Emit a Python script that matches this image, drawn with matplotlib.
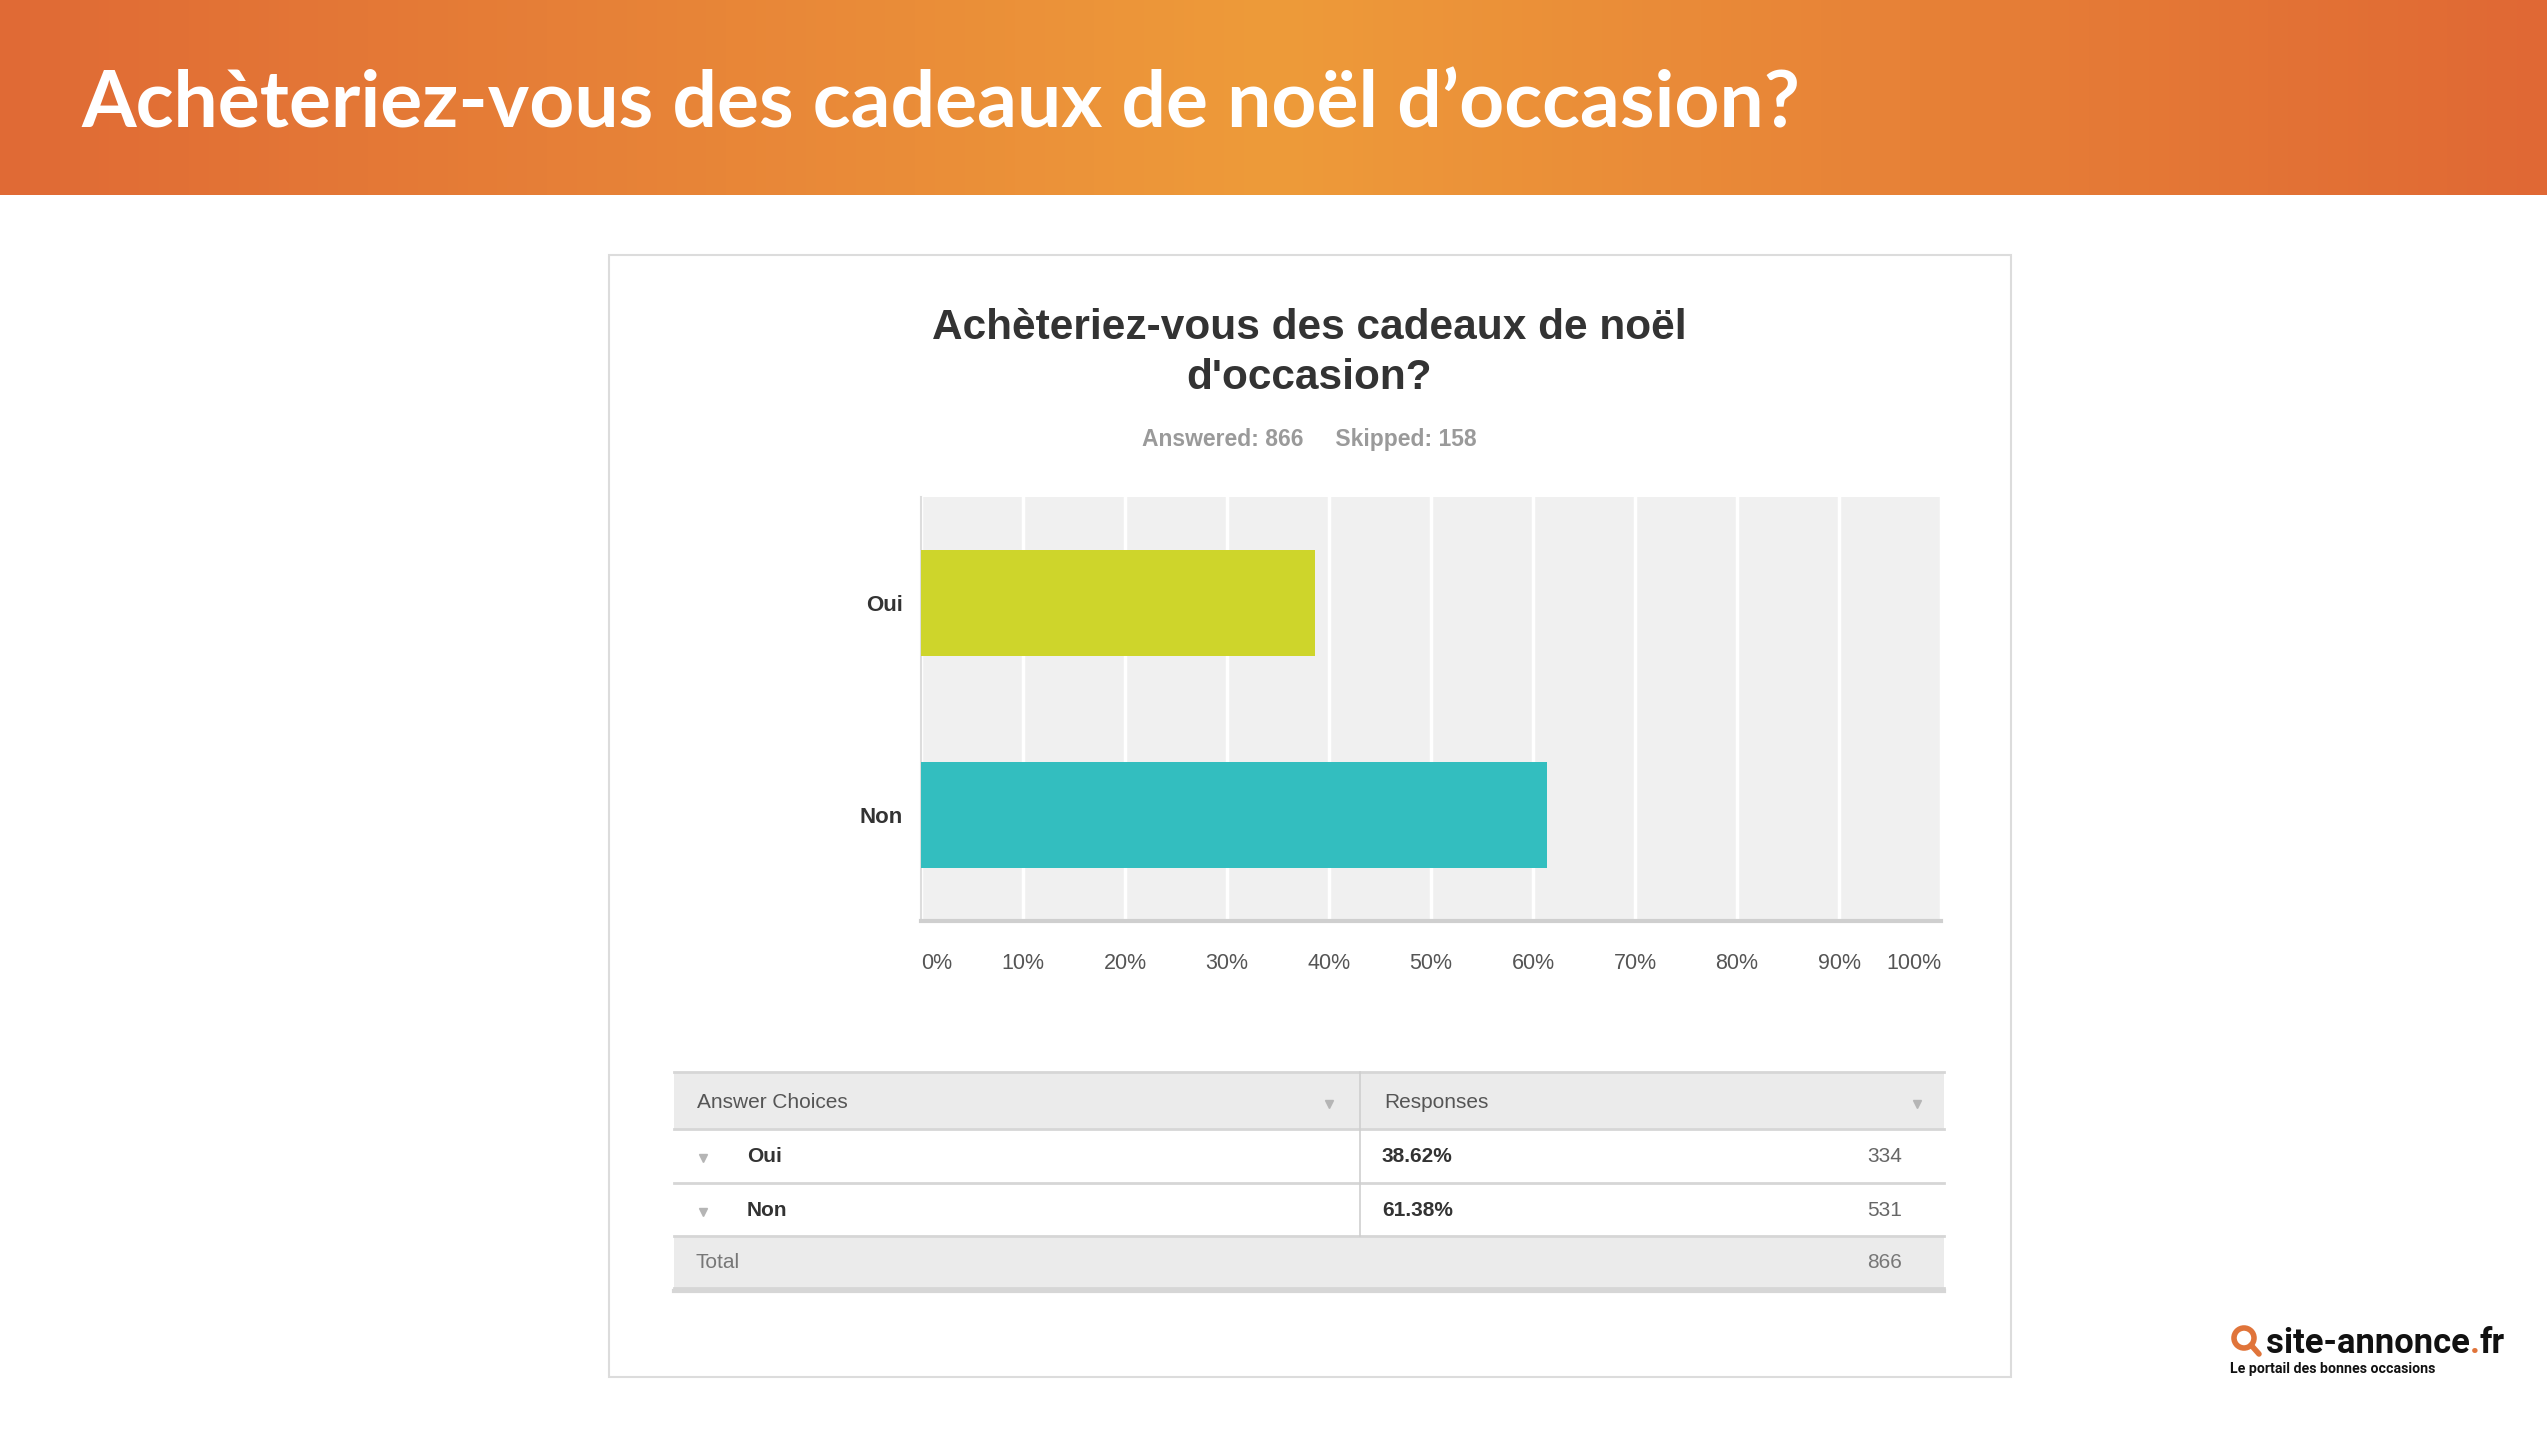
import matplotlib
matplotlib.use("Agg")
import numpy as np
import matplotlib.pyplot as plt
from matplotlib.colors import LinearSegmentedColormap
from matplotlib.patches import Rectangle, Circle

# données du sondage
categories = ["Oui", "Non"]
percents = [38.62, 61.38]
counts = [334, 531]
total = 866
answered = 866
skipped = 158
bar_colors = ["#CED52B", "#33BEBF"]
tick_values = [0, 10, 20, 30, 40, 50, 60, 70, 80, 90, 100]
tick_labels = [f"{v}%" for v in tick_values]

page_title = "Achèteriez-vous des cadeaux de noël d’occasion?"
chart_title = "Achèteriez-vous des cadeaux de noël\nd'occasion?"

W, H = 2547, 1433
fig = plt.figure(figsize=(W / 100, H / 100), dpi=100)
fig.patch.set_facecolor("white")

# calque de fond en pixels (origine en haut à gauche)
bg = fig.add_axes([0, 0, 1, 1])
bg.set_xlim(0, W)
bg.set_ylim(H, 0)
bg.axis("off")

# bandeau orange en dégradé
cmap = LinearSegmentedColormap.from_list(
    "bandeau", ["#E06A35", "#EE9B3A", "#E06834"])
grad = np.linspace(0, 1, 512).reshape(1, -1)
bg.imshow(grad, cmap=cmap, extent=(0, W, 195, 0), aspect="auto", zorder=0)

t = bg.text(81, 127, page_title, color="white", fontsize=60,
            fontfamily="Lato", fontweight="bold", va="baseline", ha="left")
fig.canvas.draw()
r = fig.canvas.get_renderer()
wpx = t.get_window_extent(r).width
t.set_fontsize(60 * 1718 / wpx)

# cadre du graphique
bg.add_patch(Rectangle((609, 255), 1402, 1122, facecolor="white",
                       edgecolor="#DCDCDC", lw=1.5, zorder=1))

bg.text(1309, 353, chart_title, ha="center", va="center", fontsize=30.5,
        fontfamily="Liberation Sans", fontweight="bold", color="#333333",
        linespacing=1.35, zorder=3)
bg.text(1309, 439, f"Answered: {answered}     Skipped: {skipped}",
        ha="center", va="center", fontsize=16.5, fontfamily="Liberation Sans",
        fontweight="bold", color="#9A9A9A", zorder=3)

# zone de tracé
left, right, top, bottom = 921, 1941, 497, 921
ax = fig.add_axes([left / W, 1 - bottom / H, (right - left) / W,
                   (bottom - top) / H])
ax.set_facecolor("#F0F0F0")
y = np.arange(len(categories))
ax.barh(y, percents, height=0.5, color=bar_colors, zorder=3)
ax.set_xlim(0, 100)
ax.set_ylim(1.5, -0.5)
ax.set_xticks(tick_values)
ax.set_xticklabels(tick_labels)
ax.set_yticks(y)
ax.set_yticklabels(categories)
ax.grid(axis="x", color="white", lw=2.5, zorder=1)
ax.tick_params(axis="both", length=0)
ax.tick_params(axis="x", pad=23, labelsize=15.5, labelcolor="#555555")
ax.tick_params(axis="y", pad=13, labelsize=16, labelcolor="#333333")
for lab in ax.get_xticklabels():
    lab.set_fontfamily("Liberation Sans")
for lab in ax.get_yticklabels():
    lab.set_fontfamily("Liberation Sans")
    lab.set_fontweight("bold")
ax.get_xticklabels()[0].set_ha("left")
ax.get_xticklabels()[-1].set_ha("right")
for s in ["top", "right"]:
    ax.spines[s].set_visible(False)
ax.spines["left"].set_color("#DDDDDD")
ax.spines["left"].set_linewidth(1.5)
ax.spines["bottom"].set_color("#CFCFCF")
ax.spines["bottom"].set_linewidth(3)

# tableau des réponses
tx0, tx1, tdiv = 674, 1944, 1360
rows_y = [1072, 1129, 1183, 1236, 1288]
tf = dict(fontfamily="Liberation Sans", fontsize=15, va="center", zorder=4)
bg.add_patch(Rectangle((tx0, rows_y[0]), tx1 - tx0, rows_y[1] - rows_y[0],
                       facecolor="#EBEBEB", edgecolor="none", zorder=2))
bg.add_patch(Rectangle((tx0, rows_y[3]), tx1 - tx0, rows_y[4] - rows_y[3],
                       facecolor="#EBEBEB", edgecolor="none", zorder=2))
for yy in rows_y:
    bg.plot([tx0, tx1], [yy, yy], color="#D6D6D6", lw=2, zorder=3)
bg.plot([tx0, tx1], [rows_y[-1] + 3, rows_y[-1] + 3], color="#D6D6D6",
        lw=3, zorder=3)
bg.plot([tdiv, tdiv], [rows_y[0], rows_y[3]], color="#CFCFCF", lw=1.2, zorder=3)

hy = (rows_y[0] + rows_y[1]) / 2 + 2
bg.text(697, hy, "Answer Choices", color="#555555", **tf)
bg.text(1384, hy, "Responses", color="#555555", **tf)
bg.plot([1329, 1917], [hy + 1, hy + 1], ls="none", marker="v", ms=6,
        color="#B5B5B5", zorder=4)

for i, (cat, p, c) in enumerate(zip(categories, percents, counts)):
    ry = (rows_y[i + 1] + rows_y[i + 2]) / 2 + 1
    bg.plot(703, ry + 1, marker="v", ms=6, color="#B5B5B5", zorder=4)
    bg.text(747, ry, cat, color="#333333", fontweight="bold", **tf)
    bg.text(1382, ry, f"{p:.2f}%", color="#333333", fontweight="bold", **tf)
    bg.text(1902, ry, str(c), color="#666666", ha="right", **tf)

ty = (rows_y[3] + rows_y[4]) / 2 + 1
bg.text(696, ty, "Total", color="#777777", **tf)
bg.text(1902, ty, str(total), color="#777777", ha="right", **tf)

# logo site-annonce.fr
bg.add_patch(Circle((2244, 1338), 10, facecolor="none", edgecolor="#E0743A",
                    lw=4, zorder=4))
bg.plot([2251, 2259], [1345, 1354], color="#E0743A", lw=4,
        solid_capstyle="round", zorder=4)
lf = dict(fontfamily="Roboto", fontweight="bold", fontsize=24, zorder=4)
l1 = bg.text(2266, 1353, "site-annonce", color="#111111", va="baseline", **lf)
l2 = bg.annotate(".", xy=(1, 0), xycoords=l1, va="bottom", ha="left",
                 color="#E0743A", **lf)
l3 = bg.annotate("fr", xy=(1, 0), xycoords=l2, va="bottom", ha="left",
                 color="#111111", **lf)
l4 = bg.text(2230, 1369, "Le portail des bonnes occasions", color="#111111",
             fontfamily="Roboto", fontweight="bold", fontsize=8.5,
             va="center", zorder=4)
fig.canvas.draw()
lw_now = (l3.get_window_extent(r).x1 - l1.get_window_extent(r).x0)
for piece in (l1, l2, l3):
    piece.set_fontsize(24 * 240 / lw_now)
w4 = l4.get_window_extent(r).width
l4.set_fontsize(8.5 * 203 / w4)

fig.savefig("out.png", dpi=100, facecolor="white")
